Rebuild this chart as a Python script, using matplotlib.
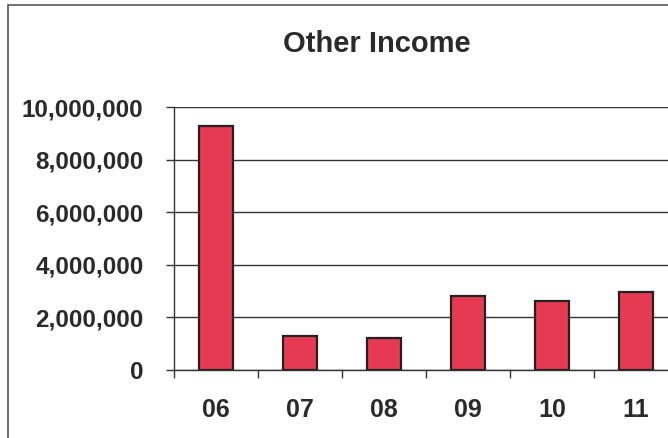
import numpy as np
import matplotlib.pyplot as plt
from matplotlib.patches import Rectangle
from matplotlib.ticker import FuncFormatter, MultipleLocator

# Other Income by year
years = ['06', '07', '08', '09', '10', '11']
income = [9280000, 1290000, 1200000, 2810000, 2620000, 2950000]

txt = '#2a2a2a'
plt.rcParams['font.family'] = ['Liberation Sans', 'DejaVu Sans']

fig = plt.figure(figsize=(6.68, 4.38), dpi=100)

# chart frame (cropped on the right and bottom in the scan)
fig.patches.append(Rectangle((8 / 668, -0.1), 1.2, 1 - 5 / 438 + 0.1,
                             transform=fig.transFigure, fill=False,
                             edgecolor='#555555', linewidth=1.2))

ax = fig.add_axes([174 / 668, 68 / 438, 504 / 668, 263 / 438])

x = np.arange(len(years))
ax.bar(x, income, width=0.41, color='#e63a52', edgecolor='#222222',
       linewidth=1.6, zorder=3)

ax.set_xlim(-0.5, len(years) - 0.5)
ax.set_ylim(0, 10000000)
ax.yaxis.set_major_locator(MultipleLocator(2000000))
ax.yaxis.set_major_formatter(FuncFormatter(lambda v, p: f'{int(v):,}'))
ax.grid(axis='y', color='#333333', linewidth=1, zorder=0)

ax.set_xticks(x)
ax.set_xticklabels(years)
ax.set_xticks(np.arange(len(years)) - 0.5, minor=True)
ax.tick_params(axis='x', which='major', length=0, pad=20,
               labelsize=18, labelcolor=txt)
ax.tick_params(axis='x', which='minor', length=6, width=1,
               direction='out', color='#333333')
ax.tick_params(axis='y', length=6, width=1, direction='out', pad=16,
               labelsize=17.5, labelcolor=txt, color='#333333')
for lab in ax.get_xticklabels() + ax.get_yticklabels():
    lab.set_fontweight('bold')

for s in ['top', 'right']:
    ax.spines[s].set_visible(False)
for s in ['left', 'bottom']:
    ax.spines[s].set_color('#333333')
    ax.spines[s].set_linewidth(1)

fig.text(0.564, 1 - 44 / 438, 'Other Income', ha='center', va='center',
         fontsize=21, fontweight='bold', color=txt)

plt.savefig('out.png', dpi=100)
